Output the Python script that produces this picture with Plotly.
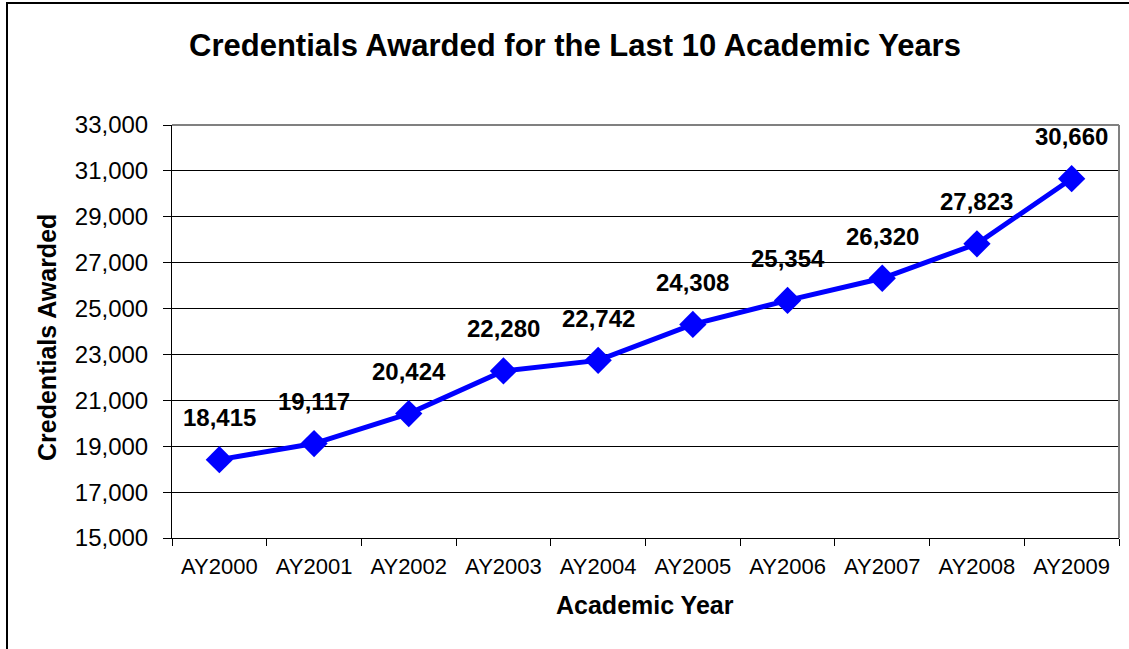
import plotly.graph_objects as go

years = ["AY2000", "AY2001", "AY2002", "AY2003", "AY2004",
         "AY2005", "AY2006", "AY2007", "AY2008", "AY2009"]
credentials = [18415, 19117, 20424, 22280, 22742, 24308, 25354, 26320, 27823, 30660]
y_ticks = list(range(15000, 33001, 2000))

FONT = "Liberation Sans, Arial, sans-serif"

fig = go.Figure()
fig.add_trace(go.Scatter(
    x=years, y=credentials, mode="lines+markers",
    line=dict(color="#0000FF", width=5),
    marker=dict(symbol="diamond", size=21, color="#0000FF"),
    hoverinfo="x+y", showlegend=False,
))

for xv, yv in zip(years, credentials):
    fig.add_annotation(x=xv, y=yv, text=f"<b>{yv:,}</b>", showarrow=False,
                       yshift=42, font=dict(family=FONT, size=24, color="black"))

L, R, T, B = 172, 10, 125, 111
W, H = 1129, 649
pw, ph = W - L - R, H - T - B

fig.update_layout(
    width=W, height=H,
    margin=dict(l=L, r=R, t=T, b=B),
    paper_bgcolor="white", plot_bgcolor="white",
    font=dict(family=FONT, color="black"),
    title=dict(text="<b>Credentials Awarded for the Last 10 Academic Years</b>",
               x=(575 - L) / pw, xref="paper", xanchor="center",
               y=1 - 45 / H, yref="container", yanchor="middle",
               font=dict(family=FONT, size=31, color="black")),
    xaxis=dict(type="category", range=[-0.5, 9.5], showgrid=False,
               ticks="outside", tickson="boundaries", ticklen=7, tickcolor="black",
               showline=True, linecolor="black", linewidth=1,
               tickfont=dict(family=FONT, size=22, color="black"),
               ticklabelstandoff=9),
    yaxis=dict(range=[15000, 33000], tickvals=y_ticks, tickformat=",",
               showgrid=True, gridcolor="black", gridwidth=1,
               ticks="outside", ticklen=8, tickcolor="black",
               showline=True, linecolor="black", linewidth=1,
               tickfont=dict(family=FONT, size=24, color="black"),
               ticklabelstandoff=10, zeroline=False),
)

# grey top and right border of the plot area
fig.add_shape(type="line", xref="paper", yref="paper", x0=0, x1=1, y0=1, y1=1,
              line=dict(color="#808080", width=2))
fig.add_shape(type="line", xref="paper", yref="paper", x0=1, x1=1, y0=0, y1=1,
              line=dict(color="#808080", width=2))

# outer chart frame
fig.add_shape(type="rect", xref="paper", yref="paper",
              x0=(7 - L) / pw, x1=(1145 - L) / pw,
              y0=(H - B - 665) / ph, y1=(H - B - 3) / ph,
              line=dict(color="black", width=2))

# axis titles
fig.add_annotation(text="<b>Academic Year</b>", xref="paper", yref="paper",
                   x=(645 - L) / pw, y=(H - B - 605) / ph, showarrow=False,
                   xanchor="center", yanchor="middle",
                   font=dict(family=FONT, size=25, color="black"))
fig.add_annotation(text="<b>Credentials Awarded</b>", xref="paper", yref="paper",
                   x=(47 - L) / pw, y=(H - B - 338) / ph, showarrow=False,
                   textangle=-90, xanchor="center", yanchor="middle",
                   font=dict(family=FONT, size=25, color="black"))

fig.write_html("out.html", config={"displayModeBar": False},
               post_script="document.body.style.margin='0';document.body.style.overflow='hidden';")
